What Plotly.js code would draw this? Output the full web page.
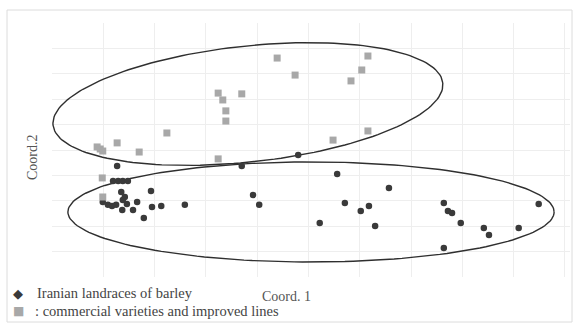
<!DOCTYPE html>
<html>
<head>
<meta charset="utf-8">
<script src="https://cdn.plot.ly/plotly-3.0.1.min.js"></script>
<style>html,body{margin:0;padding:0;background:#fff;}#chart{width:576px;height:327px;}</style>
</head>
<body>
<div id="chart"></div>
<script>
// Iranian landraces of barley (Coord. 1, Coord. 2)
const landraceX = [1.27,3.70,4.80,1.19,1.29,1.38,1.48,1.35,1.93,0.99,1.09,1.17,1.25,1.42,1.38,1.46,1.66,1.58,1.37,1.79,1.95,2.13,2.59,3.92,4.04,5.56,6.57,5.71,6.02,6.18,5.22,6.30,7.64,7.72,7.80,7.97,8.42,8.52,9.10,9.49,7.64];
const landraceY = [4.37,4.37,4.80,3.78,3.78,3.78,3.78,3.35,3.39,2.95,2.84,2.80,2.84,3.15,3.03,2.87,2.95,2.64,2.64,2.32,2.76,2.80,2.84,3.23,2.84,4.06,3.50,2.91,2.60,2.80,2.13,2.01,2.91,2.60,2.52,2.13,1.93,1.65,1.93,2.87,1.14];
// Commercial varieties and improved lines
const commercialX = [4.39,4.74,3.24,3.33,3.70,3.39,3.39,2.24,1.27,1.70,0.88,0.94,0.99,3.24,6.16,6.04,5.83,5.48,6.16,0.98,0.99];
const commercialY = [8.62,7.95,7.24,6.97,7.21,6.54,6.14,5.67,5.28,4.92,5.12,5.04,4.96,4.65,8.70,8.15,7.72,5.39,5.75,3.90,3.15];
// Group ellipses: center, half-axis vectors (data units)
const upperEllipse = {cx: 3.82, cy: 6.81, ax: 3.80, ay: 0.83, bx: 0.12, by: -2.27};
const lowerEllipse = {cx: 5.05, cy: 2.56, ax: 4.74, ay: 0.00, bx: 0.00, by: 1.97};
const seriesNames = ["Iranian landraces of barley", ": commercial varieties and improved lines"];
const seriesColors = ["#3a3a3a", "#a8a8a8"];
const legendGlyphs = ["\u25C6", "\u25A0"];

function ellipseTrace(e) {
  const xs = [], ys = [];
  for (let i = 0; i <= 180; i++) {
    const t = 2 * Math.PI * i / 180;
    xs.push(e.cx + Math.cos(t) * e.ax + Math.sin(t) * e.bx);
    ys.push(e.cy + Math.cos(t) * e.ay + Math.sin(t) * e.by);
  }
  return {x: xs, y: ys, mode: 'lines', type: 'scatter', showlegend: false, hoverinfo: 'skip',
          line: {color: '#2f2f2f', width: 1.4}};
}

const traces = [
  ellipseTrace(upperEllipse),
  ellipseTrace(lowerEllipse),
  {x: landraceX, y: landraceY, name: seriesNames[0], mode: 'markers', type: 'scatter',
   marker: {symbol: 'circle', size: 6.5, color: seriesColors[0]}},
  {x: commercialX, y: commercialY, name: seriesNames[1], mode: 'markers', type: 'scatter',
   marker: {symbol: 'square', size: 7, color: seriesColors[1]}}
];

const font = 'Liberation Serif, Times New Roman, serif';
// pixel helpers for paper coords (plot area: x 52..570, y 23..277)
const px = v => (v - 52) / 518;
const py = v => (277 - v) / 254;

const annotations = [
  {text: 'Coord. 1', xref: 'paper', yref: 'paper', x: px(286), y: py(296),
   showarrow: false, font: {family: font, size: 14, color: '#555'}, xanchor: 'center', yanchor: 'middle'},
  {text: 'Coord.2', xref: 'paper', yref: 'paper', x: px(32), y: py(157),
   textangle: -90, showarrow: false, font: {family: font, size: 14, color: '#555'}, xanchor: 'center', yanchor: 'middle'}
];
const legendRows = [293, 311];
const textStart = [35, 33];
seriesNames.forEach((name, i) => {
  annotations.push({text: legendGlyphs[i], xref: 'paper', yref: 'paper', x: px(18), y: py(legendRows[i]),
    showarrow: false, xanchor: 'center', yanchor: 'middle',
    font: {family: 'DejaVu Sans', size: i === 0 ? 13 : 12, color: seriesColors[i]}});
  annotations.push({text: name, xref: 'paper', yref: 'paper', x: px(textStart[i]), y: py(legendRows[i]),
    showarrow: false, xanchor: 'left', yanchor: 'middle',
    font: {family: font, size: 14.5, color: '#444'}});
});

const layout = {
  width: 576, height: 327,
  margin: {l: 52, r: 6, t: 23, b: 50},
  paper_bgcolor: '#ffffff', plot_bgcolor: '#ffffff',
  font: {family: font, size: 14, color: '#333'},
  xaxis: {range: [0, 10.1], dtick: 1, showgrid: true, gridcolor: '#eeeeee', gridwidth: 1,
          zeroline: false, showticklabels: false, ticks: '', showline: false, fixedrange: true},
  yaxis: {range: [0, 10], dtick: 1, showgrid: true, gridcolor: '#eeeeee', gridwidth: 1,
          zeroline: false, showticklabels: false, ticks: '', showline: false, fixedrange: true},
  showlegend: false,
  annotations: annotations,
  shapes: [
    {type: 'rect', xref: 'paper', yref: 'paper', x0: px(7), x1: px(572),
     y0: py(322), y1: py(10), line: {color: '#dcdcdc', width: 1}, layer: 'below'}
  ]
};

Plotly.newPlot('chart', traces, layout, {displayModeBar: false, staticPlot: true});
</script>
</body>
</html>
